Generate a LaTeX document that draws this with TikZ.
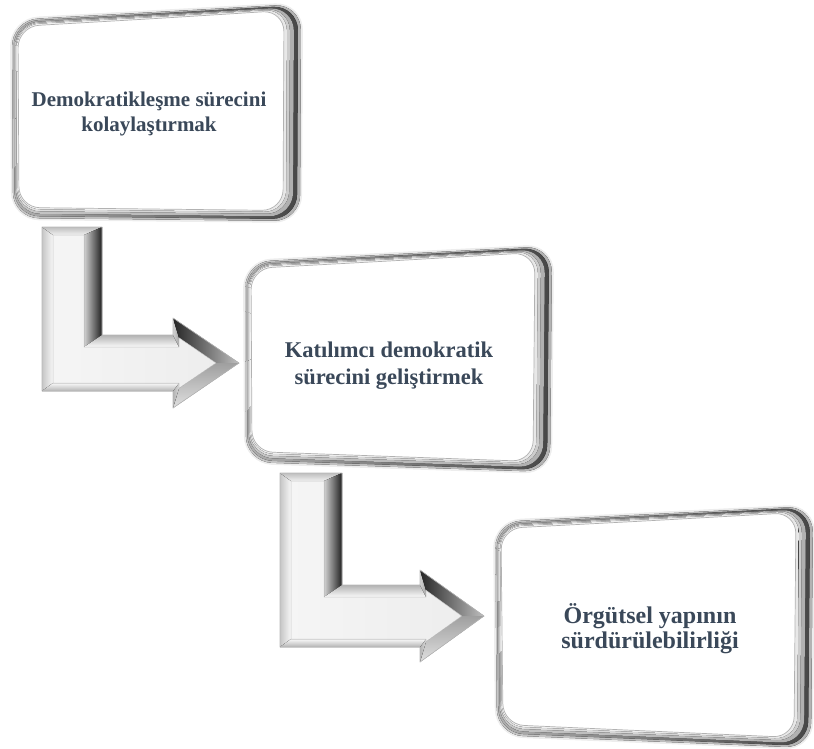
\documentclass[tikz,border=0pt]{standalone}
\usepackage{fontspec}
\setmainfont{Liberation Serif}
\usetikzlibrary{calc}

\definecolor{inkblue}{HTML}{3A4859}

% rim widths of the bent arrows (left, top, shaft right, foot top, head back, head sides, bottom)
\def\wL{11}\def\wT{8}\def\wR{18}\def\wF{12}\def\wB{6}\def\wD{13}\def\wM{8}

% rounded outline through the four corners <name>-tl/-tr/-br/-bl, pulled in by left/top/right/bottom
\newcommand\panelpath[5]{%
  ($(#1-tl)!.5!(#1-tr)+(0,#3)$) -- ($(#1-tr)+(-#4,#3)$) -- ($(#1-br)+(-#4,-#5)$)
  -- ($(#1-bl)+(#2,-#5)$) -- ($(#1-tl)+(#2,#3)$) -- cycle}

% white card in a bevelled grey frame
\newcommand\bevelpanel[1]{%
  \draw[gray!14, line width=4pt, rounded corners=26pt] \panelpath{#1}{0}{0}{0}{0};
  \fill[left color=gray!45, right color=gray!60, rounded corners=26pt] \panelpath{#1}{0}{0}{0}{0};
  \fill[left color=gray!62, right color=black!72, rounded corners=25pt] \panelpath{#1}{1.5}{1.5}{3}{2};
  \fill[left color=gray!45, right color=gray!62, rounded corners=24pt] \panelpath{#1}{3}{3}{7}{4.5};
  \fill[left color=gray!25, right color=gray!40, rounded corners=23pt] \panelpath{#1}{4}{4}{11}{7};
  \fill[left color=gray!10, right color=gray!18, rounded corners=22pt] \panelpath{#1}{5}{5}{14}{9};
  \filldraw[fill=white, draw=gray!60, line width=0.7pt, rounded corners=21pt] \panelpath{#1}{6}{6.5}{17}{10.5};
}

% bevelled bent (L-shaped) block arrow
% #1 left x, #2 top y, #3 right x of the shaft, #4 top y of the foot,
% #5 x of the head's back, #6 top y of the head, #7 tip x, #8 bottom y of the foot
\newcommand\bentarrow[8]{%
  \pgfmathsetmacro\arTy{(#4+#8)/2}
  \pgfmathsetmacro\arGy{2*\arTy-#6}
  \pgfmathsetmacro\arHl{#7-#5}
  \pgfmathsetmacro\arHy{\arTy-#6}
  \pgfmathsetmacro\arL{sqrt(\arHl*\arHl+\arHy*\arHy)}
  \pgfmathsetmacro\arEy{#6+\wD*\arHl/\arL+(\arHy/\arHl)*(\wB+\wD*\arHy/\arL)}
  \pgfmathsetmacro\arGyi{2*\arTy-\arEy}
  \pgfmathsetmacro\arFx{#7-\wD*\arL/\arHy}
  \coordinate (A) at (#1,#2);   \coordinate (B) at (#3,#2);
  \coordinate (C) at (#3,#4);   \coordinate (D) at (#5,#4);
  \coordinate (E) at (#5,#6);   \coordinate (F) at (#7,\arTy);
  \coordinate (G) at (#5,\arGy); \coordinate (H) at (#5,#8);
  \coordinate (I) at (#1,#8);
  \coordinate (A1) at ({#1+\wL},{#2+\wT}); \coordinate (B1) at ({#3-\wR},{#2+\wT});
  \coordinate (C1) at ({#3-\wR},{#4+\wF}); \coordinate (D1) at ({#5+\wB},{#4+\wF});
  \coordinate (E1) at ({#5+\wB},\arEy);    \coordinate (F1) at (\arFx,\arTy);
  \coordinate (G1) at ({#5+\wB},\arGyi);   \coordinate (H1) at ({#5+\wB},{#8-\wM});
  \coordinate (I1) at ({#1+\wL},{#8-\wM});
  % rim facets
  \fill[left color=gray!45, right color=gray!6] (A) -- (I) -- (I1) -- (A1) -- cycle;
  \fill[top color=gray!50, bottom color=gray!12] (A) -- (B) -- (B1) -- (A1) -- cycle;
  \fill[left color=gray!35, right color=black!88] (B) -- (C) -- (C1) -- (B1) -- cycle;
  \fill[top color=gray!60, bottom color=gray!4] (C) -- (D) -- (D1) -- (C1) -- cycle;
  \fill[left color=gray!35, right color=gray!70] (D) -- (E) -- (E1) -- (D1) -- cycle;
  \fill[left color=black!85, right color=gray!50] (E) -- (F) -- (F1) -- (E1) -- cycle;
  \fill[top color=gray!75, bottom color=gray!25] (F) -- (G) -- (G1) -- (F1) -- cycle;
  \fill[left color=gray!60, right color=gray!30] (G) -- (H) -- (H1) -- (G1) -- cycle;
  \fill[top color=gray!5, bottom color=gray!60] (H) -- (I) -- (I1) -- (H1) -- cycle;
  % top face
  \fill[left color=gray!8, right color=gray!14]
    (A1) -- (B1) -- (C1) -- (D1) -- (E1) -- (F1) -- (G1) -- (H1) -- (I1) -- cycle;
  \draw[gray!40, line width=0.5pt]
    (A1) -- (B1) -- (C1) -- (D1) -- (E1) -- (F1) -- (G1) -- (H1) -- (I1) -- cycle;
  \draw[gray!55, line width=0.6pt]
    (A) -- (B) -- (C) -- (D) -- (E) -- (F) -- (G) -- (H) -- (I) -- cycle;
}

\begin{document}
\begin{tikzpicture}[x=1pt, y=-1pt, line join=round,
  cardtext/.style={text=inkblue, align=center, inner sep=0pt}]
\useasboundingbox (0,0) rectangle (814,749);

% bent arrows between the cards
\bentarrow{42}{227}{102}{335}{173}{318}{239}{391}
\bentarrow{280}{473}{342}{585}{420}{570}{484}{647}

% corners of the three cards
\coordinate (p1-tl) at (12,20);   \coordinate (p1-tr) at (301,4);
\coordinate (p1-br) at (300,221); \coordinate (p1-bl) at (13,218);
\coordinate (p2-tl) at (245,262); \coordinate (p2-tr) at (552,246);
\coordinate (p2-br) at (550,472); \coordinate (p2-bl) at (246,462);
\coordinate (p3-tl) at (495,522); \coordinate (p3-tr) at (813,506);
\coordinate (p3-br) at (811,748); \coordinate (p3-bl) at (497,735);

\bevelpanel{p1}
\bevelpanel{p2}
\bevelpanel{p3}

\node[cardtext, font=\fontsize{21}{25}\selectfont\bfseries] (t1) at (149,114)
  {Demokratikleşme sürecini\\kolaylaştırmak};
\node[cardtext, font=\fontsize{22.5}{27}\selectfont\bfseries] (t2) at (389,365.5)
  {Katılımcı demokratik\\sürecini geliştirmek};
\node[cardtext, font=\fontsize{24}{25}\selectfont\bfseries] (t3) at (650,628.5)
  {Örgütsel yapının\\sürdürülebilirliği};
\end{tikzpicture}
\end{document}
